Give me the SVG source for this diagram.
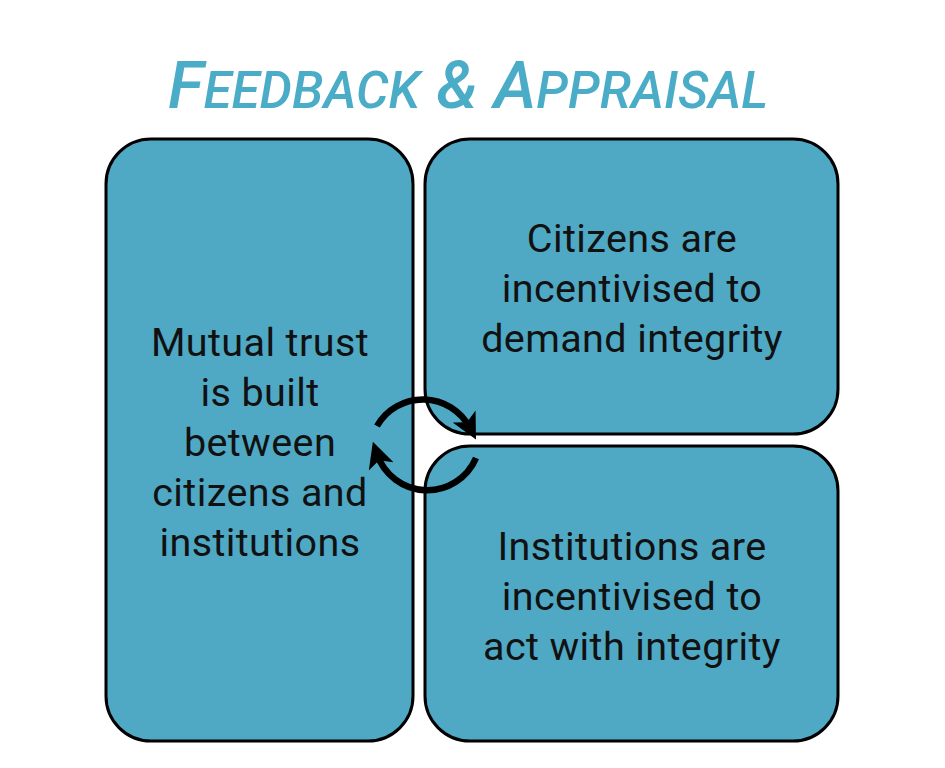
<svg xmlns="http://www.w3.org/2000/svg" width="945" height="768" viewBox="0 0 945 768">
<style>
.box{fill:#4FA9C5;stroke:#000;stroke-width:3}
.t{font-family:"Roboto","Liberation Sans",sans-serif;font-size:39.5px;letter-spacing:0.4px;fill:#111;text-anchor:middle}
.title{font-family:"Roboto","Liberation Sans",sans-serif;font-style:italic;font-weight:500;fill:#4BACC8}
.arc{fill:none;stroke:#000;stroke-width:6.5}
</style>
<defs>
<marker id="ah" markerWidth="4" markerHeight="4" refX="2" refY="2" orient="auto" markerUnits="strokeWidth">
<path d="M0,0 L4,2 L0,4 L1,2 Z" fill="#000"/>
</marker>
</defs>
<rect width="945" height="768" fill="#fff"/>
<text class="title" x="168" y="108" textLength="600" lengthAdjust="spacingAndGlyphs"><tspan font-size="66">F</tspan><tspan font-size="51">EEDBACK</tspan><tspan font-size="66"> &amp; A</tspan><tspan font-size="51">PPRAISAL</tspan></text>
<g id="node-left">
<rect class="box" x="106" y="139" width="307" height="602" rx="45"/>
<text class="t" x="260" y="356">Mutual trust</text>
<text class="t" x="260" y="406">is built</text>
<text class="t" x="260" y="456">between</text>
<text class="t" x="260" y="506">citizens and</text>
<text class="t" x="260" y="556">institutions</text>
</g>
<g id="node-top-right">
<rect class="box" x="425" y="139" width="413" height="295" rx="45"/>
<text class="t" x="632" y="252">Citizens are</text>
<text class="t" x="632" y="302">incentivised to</text>
<text class="t" x="632" y="352">demand integrity</text>
</g>
<g id="node-bottom-right">
<rect class="box" x="425" y="446" width="413" height="295" rx="45"/>
<text class="t" x="632" y="560">Institutions are</text>
<text class="t" x="632" y="610">incentivised to</text>
<text class="t" x="632" y="660">act with integrity</text>
</g>
<g id="connectors">
<path class="arc" d="M377,426 A53,53 0 0 1 470,428" marker-end="url(#ah)"/>
<path class="arc" d="M476,458 A53,53 0 0 1 377,454" marker-end="url(#ah)"/>
</g>
</svg>
